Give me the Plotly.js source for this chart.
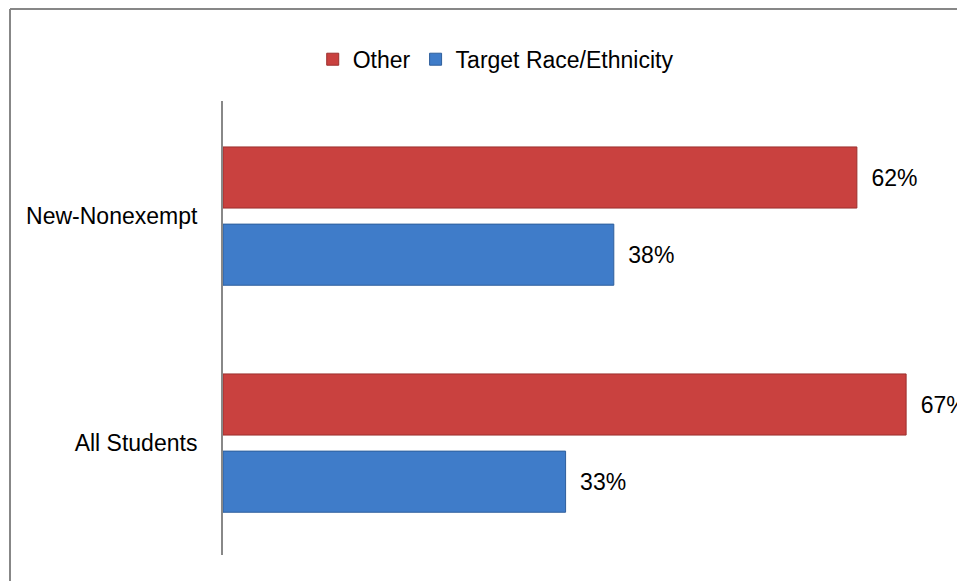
<!DOCTYPE html>
<html>
<head>
<meta charset="utf-8">
<script src="https://cdn.plot.ly/plotly-3.0.1.min.js"></script>
<style>
  html, body { margin: 0; padding: 0; background: #ffffff; }
  #chart { width: 957px; height: 581px; }
</style>
</head>
<body>
<div id="chart"></div>
<script>
// Data
var categories = ["All Students", "New-Nonexempt"];
var otherValues = [66.6, 61.8];
var targetValues = [33.4, 38.1];
var seriesNames = ["Other", "Target Race/Ethnicity"];

var FONT = '"Liberation Sans", Arial, sans-serif';
var FS = 23;
var PAD = '\u2002';

function labels(vals) {
  return vals.map(function (v) { return PAD + Math.round(v) + '%'; });
}

var traceTarget = {
  type: 'bar',
  orientation: 'h',
  name: seriesNames[1],
  y: categories,
  x: targetValues,
  text: labels(targetValues),
  textposition: 'outside',
  cliponaxis: false,
  textfont: { family: FONT, size: FS, color: '#000000' },
  marker: { color: '#3F7CC9', line: { color: '#2F5F9C', width: 1 } },
  legendrank: 2,
  hoverinfo: 'skip'
};

var traceOther = {
  type: 'bar',
  orientation: 'h',
  name: seriesNames[0],
  y: categories,
  x: otherValues,
  text: labels(otherValues),
  textposition: 'outside',
  cliponaxis: false,
  textfont: { family: FONT, size: FS, color: '#000000' },
  marker: { color: '#C9413F', line: { color: '#9C302E', width: 1 } },
  legendrank: 1,
  hoverinfo: 'skip'
};

var layout = {
  width: 957,
  height: 581,
  margin: { l: 223, r: 0, t: 101, b: 26, pad: 0 },
  paper_bgcolor: '#ffffff',
  plot_bgcolor: '#ffffff',
  font: { family: FONT, size: FS, color: '#000000' },
  barmode: 'group',
  bargap: 0.32,
  bargroupgap: 0.208,
  showlegend: true,
  legend: {
    orientation: 'h',
    xref: 'container',
    yref: 'container',
    x: 0.518,
    xanchor: 'center',
    y: 0.898,
    yanchor: 'middle',
    font: { family: FONT, size: FS, color: '#000000' },
    itemwidth: 30,
    traceorder: 'normal'
  },
  xaxis: {
    range: [0, 71.56],
    showgrid: false,
    zeroline: false,
    showline: false,
    showticklabels: false,
    ticks: ''
  },
  yaxis: {
    type: 'category',
    range: [-0.493, 1.507],
    showgrid: false,
    zeroline: false,
    showline: true,
    linecolor: '#888888',
    linewidth: 2,
    ticks: '',
    ticklabelstandoff: 19,
    tickfont: { family: FONT, size: FS, color: '#000000' }
  },
  shapes: [
    {
      type: 'line', xref: 'paper', yref: 'paper',
      x0: (10 - 223) / 734, x1: (10 - 223) / 734,
      y0: (555 - 9) / 454, y1: (555 - 600) / 454,
      line: { color: '#878787', width: 2 }
    },
    {
      type: 'line', xref: 'paper', yref: 'paper',
      x0: (10 - 223) / 734, x1: 1.1,
      y0: (555 - 9) / 454, y1: (555 - 9) / 454,
      line: { color: '#878787', width: 2 }
    }
  ]
};

Plotly.newPlot('chart', [traceTarget, traceOther], layout, { displayModeBar: false, staticPlot: true });
</script>
</body>
</html>
